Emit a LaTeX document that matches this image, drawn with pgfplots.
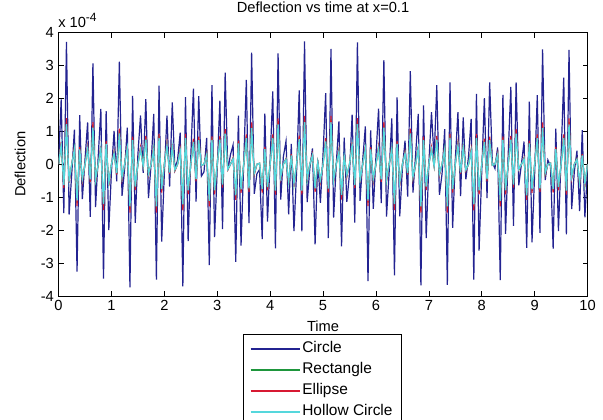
\documentclass[border=0pt]{standalone}
\usepackage{fontspec}
\setmainfont{Liberation Sans}
\usepackage{pgfplots}
\usepackage{pgfplotstable}
\pgfplotsset{compat=1.18}
\definecolor{colA}{RGB}{35,35,145}
\definecolor{colB}{RGB}{30,150,60}
\definecolor{colC}{RGB}{215,25,50}
\definecolor{colD}{RGB}{85,215,220}
\pgfplotstableread{
t c r e h
0.00 0 0 0 0
0.05 1.97 0.63 0.68 0.59
0.10 -1.48 -0.67 -0.72 -0.63
0.15 3.72 1.31 1.40 1.22
0.20 -1.53 -0.52 -0.56 -0.49
0.25 -0.29 0 0 0
0.30 1.05 0.48 0.52 0.45
0.35 -3.26 -1.18 -1.27 -1.10
0.40 1.49 0.48 0.52 0.45
0.45 -1.06 -0.48 -0.52 -0.45
0.50 0.13 0 0 0
0.55 1.27 0.50 0.54 0.47
0.60 -1.60 -0.49 -0.53 -0.46
0.65 3.06 1.19 1.28 1.11
0.70 -1.30 -0.49 -0.53 -0.46
0.75 0.23 0 0 0
0.80 1.68 0.52 0.56 0.49
0.85 -3.47 -1.29 -1.39 -1.21
0.90 1.61 0.66 0.71 0.62
0.95 -2.00 -0.61 -0.66 -0.57
1.00 -0.23 0 0 0
1.05 1.01 0.35 0.38 0.33
1.10 -0.52 -0.29 -0.31 -0.27
1.15 3.12 1.01 1.08 0.94
1.20 -0.96 -0.42 -0.45 -0.39
1.25 -0.13 0 0 0
1.30 1.11 0.52 0.56 0.49
1.35 -3.74 -1.37 -1.47 -1.28
1.40 2.08 0.78 0.84 0.73
1.45 -1.78 -0.73 -0.78 -0.68
1.50 0.29 0 0 0
1.55 1.48 0.48 0.52 0.45
1.60 -0.26 -0.05 -0.06 -0.05
1.65 1.98 0.80 0.86 0.75
1.70 -1.03 -0.31 -0.33 -0.29
1.75 0 0 0 0
1.80 1.53 0.49 0.53 0.46
1.85 -3.50 -1.37 -1.47 -1.28
1.90 2.39 0.86 0.92 0.80
1.95 -2.35 -0.80 -0.86 -0.75
2.00 -0.29 0 0 0
2.05 1.48 0.61 0.66 0.57
2.10 -0.68 -0.27 -0.29 -0.25
2.15 1.88 0.58 0.62 0.54
2.20 -0.16 -0.18 -0.20 -0.17
2.25 0.13 0 0 0
2.30 0.96 0.42 0.45 0.39
2.35 -3.71 -1.31 -1.40 -1.22
2.40 2.04 0.86 0.92 0.80
2.45 -2.33 -0.85 -0.91 -0.79
2.50 0.23 0 0 0
2.55 2.30 0.73 0.78 0.68
2.60 -1.13 -0.48 -0.52 -0.45
2.65 2.07 0.78 0.84 0.73
2.70 -0.36 -0.03 -0.03 -0.03
2.75 -0.23 0 0 0
2.80 0.80 0.31 0.33 0.29
2.85 -3.06 -1.19 -1.28 -1.11
2.90 2.40 0.79 0.85 0.74
2.95 -2.21 -0.85 -0.91 -0.79
3.00 -0.13 0 0 0
3.05 1.93 0.80 0.86 0.75
3.10 -1.97 -0.66 -0.71 -0.62
3.15 2.78 1.00 1.07 0.93
3.20 -0.18 -0.16 -0.17 -0.15
3.25 0.29 0 0 0
3.30 0.59 0.18 0.20 0.17
3.35 -2.96 -1.01 -1.08 -0.94
3.40 1.48 0.67 0.72 0.63
3.45 -2.47 -0.81 -0.87 -0.76
3.50 0 0 0 0
3.55 2.56 0.85 0.91 0.79
3.60 -1.79 -0.78 -0.84 -0.73
3.65 3.39 1.18 1.27 1.10
3.70 -0.90 -0.29 -0.31 -0.27
3.75 -0.29 0 0 0
3.80 -0.16 0.03 0.03 0.03
3.85 -2.27 -0.80 -0.86 -0.75
3.90 1.54 0.49 0.53 0.46
3.95 -1.74 -0.74 -0.79 -0.69
4.00 0.13 0 0 0
4.05 2.21 0.85 0.91 0.79
4.10 -2.55 -0.86 -0.92 -0.80
4.15 3.37 1.29 1.39 1.21
4.20 -1.07 -0.41 -0.44 -0.38
4.25 0.23 0 0 0
4.30 0.70 0.16 0.17 0.15
4.35 -1.52 -0.58 -0.62 -0.54
4.40 0.62 0.29 0.31 0.27
4.45 -2.03 -0.63 -0.68 -0.59
4.50 -0.23 0 0 0
4.55 2.24 0.81 0.87 0.76
4.60 -2.04 -0.86 -0.92 -0.80
4.65 3.73 1.37 1.47 1.28
4.70 -1.15 -0.48 -0.52 -0.45
4.75 -0.13 0 0 0
4.80 0.48 0.29 0.31 0.27
4.85 -2.43 -0.78 -0.84 -0.73
4.90 0.13 0.06 0.07 0.06
4.95 -1.17 -0.50 -0.54 -0.47
5.00 0.29 0 0 0
5.05 2.16 0.74 0.79 0.69
5.10 -2.24 -0.79 -0.85 -0.74
5.15 3.50 1.37 1.47 1.28
5.20 -1.62 -0.52 -0.56 -0.49
5.25 0 0 0 0
5.30 1.30 0.41 0.44 0.38
5.35 -2.49 -1.00 -1.07 -0.93
5.40 0.81 0.27 0.29 0.25
5.45 -1.14 -0.35 -0.38 -0.33
5.50 -0.29 0 0 0
5.55 1.51 0.63 0.68 0.59
5.60 -1.77 -0.67 -0.72 -0.63
5.65 3.70 1.31 1.40 1.22
5.70 -1.11 -0.52 -0.56 -0.49
5.75 0.13 0 0 0
5.80 1.15 0.48 0.52 0.45
5.85 -3.55 -1.18 -1.27 -1.10
5.90 1.03 0.48 0.52 0.45
5.95 -1.35 -0.48 -0.52 -0.45
6.00 0.23 0 0 0
6.05 1.69 0.50 0.54 0.47
6.10 -1.18 -0.49 -0.53 -0.46
6.15 3.16 1.19 1.28 1.11
6.20 -1.59 -0.49 -0.53 -0.46
6.25 -0.23 0 0 0
6.30 1.39 0.52 0.56 0.49
6.35 -3.37 -1.29 -1.39 -1.21
6.40 2.03 0.66 0.71 0.62
6.45 -1.58 -0.61 -0.66 -0.57
6.50 -0.13 0 0 0
6.55 0.72 0.35 0.38 0.33
6.60 -0.98 -0.29 -0.31 -0.27
6.65 2.83 1.01 1.08 0.94
6.70 -0.86 -0.42 -0.45 -0.39
6.75 0.29 0 0 0
6.80 1.53 0.52 0.56 0.49
6.85 -3.68 -1.37 -1.47 -1.28
6.90 1.79 0.78 0.84 0.73
6.95 -2.24 -0.73 -0.78 -0.68
7.00 0 0 0 0
7.05 1.58 0.48 0.52 0.45
7.10 0.16 -0.05 -0.06 -0.05
7.15 2.40 0.80 0.86 0.75
7.20 -0.93 -0.31 -0.33 -0.29
7.25 -0.29 0 0 0
7.30 1.07 0.49 0.53 0.46
7.35 -3.66 -1.37 -1.47 -1.28
7.40 2.49 0.86 0.92 0.80
7.45 -1.93 -0.80 -0.86 -0.75
7.50 0.13 0 0 0
7.55 1.58 0.61 0.66 0.57
7.60 -0.97 -0.27 -0.29 -0.25
7.65 1.42 0.58 0.62 0.54
7.70 -0.46 -0.18 -0.20 -0.17
7.75 0.23 0 0 0
7.80 1.38 0.42 0.45 0.39
7.85 -3.50 -1.31 -1.40 -1.22
7.90 2.14 0.86 0.92 0.80
7.95 -2.62 -0.85 -0.91 -0.79
8.00 -0.23 0 0 0
8.05 2.01 0.73 0.78 0.68
8.10 -1.03 -0.48 -0.52 -0.45
8.15 2.49 0.78 0.84 0.73
8.20 0.06 -0.03 -0.03 -0.03
8.25 -0.13 0 0 0
8.30 0.51 0.31 0.33 0.29
8.35 -3.52 -1.19 -1.28 -1.11
8.40 2.11 0.79 0.85 0.74
8.45 -2.11 -0.85 -0.91 -0.79
8.50 0.29 0 0 0
8.55 2.35 0.80 0.86 0.75
8.60 -1.87 -0.66 -0.71 -0.62
8.65 2.49 1.00 1.07 0.93
8.70 -0.64 -0.16 -0.17 -0.15
8.75 0 0 0 0
8.80 0.69 0.18 0.20 0.17
8.85 -2.54 -1.01 -1.08 -0.94
8.90 1.90 0.67 0.72 0.63
8.95 -2.37 -0.81 -0.87 -0.76
9.00 -0.29 0 0 0
9.05 2.10 0.85 0.91 0.79
9.10 -2.08 -0.78 -0.84 -0.73
9.15 3.49 1.18 1.27 1.10
9.20 -0.48 -0.29 -0.31 -0.27
9.25 0.13 0 0 0
9.30 -0.06 0.03 0.03 0.03
9.35 -2.56 -0.80 -0.86 -0.75
9.40 1.08 0.49 0.53 0.46
9.45 -2.03 -0.74 -0.79 -0.69
9.50 0.23 0 0 0
9.55 2.63 0.85 0.91 0.79
9.60 -2.13 -0.86 -0.92 -0.80
9.65 3.47 1.29 1.39 1.21
9.70 -1.36 -0.41 -0.44 -0.38
9.75 -0.23 0 0 0
9.80 0.41 0.16 0.17 0.15
9.85 -1.42 -0.58 -0.62 -0.54
9.90 1.04 0.29 0.31 0.27
9.95 -1.61 -0.63 -0.68 -0.59
10.00 -0.13 0 0 0
}\data
\newcommand{\mf}{\fontsize{11}{13}\selectfont}
\newcommand{\lf}{\fontsize{11.6}{13}\selectfont}
\begin{document}
\begin{tikzpicture}
\useasboundingbox (0,0) rectangle (452.25pt,314.25pt);
\fill[white] (0,0) rectangle (452.25pt,314.25pt);
\begin{axis}[
  at={(43.9pt,92.25pt)}, anchor=south west,
  scale only axis, width=396.75pt, height=197.6pt,
  xmin=0, xmax=10, ymin=-4, ymax=4,
  xtick={0,1,...,10}, ytick={-4,-3,...,4},
  tick align=inside, tick pos=both,
  xticklabel pos=lower, yticklabel pos=left,
  major tick length=3.75pt,
  axis line style={black, line width=0.6pt},
  every tick/.style={black, line width=0.5pt},
  ticklabel style={font=\mf},
  /pgf/number format/assume math mode=true,
  title={Deflection vs time at x=0.1},
  title style={font=\mf, at={(axis description cs:0.5,1.047)}, anchor=base},
  xlabel={Time},
  xlabel style={font=\mf, at={(axis description cs:0.5,-0.114)}, anchor=center},
  ylabel={Deflection},
  ylabel style={font=\mf, at={(axis description cs:-0.0728,0.5)}, anchor=center},
  legend style={font=\lf, at={(axis description cs:0.3487,-0.1442)}, anchor=north west,
    draw=black, line width=0.5pt, fill=white, inner xsep=5pt, inner ysep=4.5pt,
    row sep=3pt, nodes={inner sep=1.5pt, text height=7.8pt, text depth=2pt},
    cells={anchor=west}},
  legend image code/.code={\draw[#1, line width=1pt] (0pt,0pt) -- (36.75pt,0pt);},
  clip mode=individual,
]
\addplot[draw=colA, line width=0.9pt, sharp plot] table[x=t, y=c] {\data};
\addlegendentry{Circle}
\addplot[draw=colB, line width=0.85pt, sharp plot] table[x=t, y=r] {\data};
\addlegendentry{Rectangle}
\addplot[draw=colC, line width=0.85pt, sharp plot] table[x=t, y=e] {\data};
\addlegendentry{Ellipse}
\addplot[draw=colD, line width=1pt, sharp plot] table[x=t, y=h] {\data};
\addlegendentry{Hollow Circle}
\end{axis}
\node[font=\mf, anchor=base west, inner sep=0pt] at (43.5pt,294pt) {x 10\raisebox{4.5pt}{\fontsize{9}{10}\selectfont -4}};
\end{tikzpicture}
\end{document}
